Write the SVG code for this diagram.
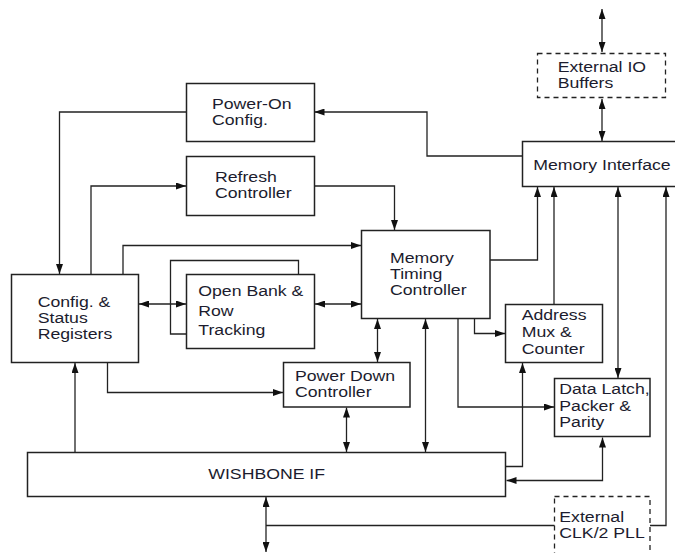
<svg xmlns="http://www.w3.org/2000/svg" width="675" height="553" viewBox="0 0 675 553">
<style>
.box{fill:#fff;stroke:#222;stroke-width:1.5}
.dash{fill:#fff;stroke:#222;stroke-width:1.3;stroke-dasharray:5,4}
.c{fill:none;stroke:#222;stroke-width:1.3}
text{font-family:"Liberation Sans",Arial,sans-serif;font-size:15.5px;fill:#1c1c2e}
</style>
<defs>
<marker id="ah" markerUnits="userSpaceOnUse" markerWidth="10" markerHeight="7" refX="10" refY="3.5" orient="auto-start-reverse">
<path d="M0,0 L10,3.5 L0,7 z" fill="#111"/>
</marker>
</defs>
<rect width="675" height="553" fill="#fff"/>
<g id="connectors">
<path class="c" d="M602,9 V52" marker-start="url(#ah)" marker-end="url(#ah)"/>
<path class="c" d="M602,99 V141" marker-start="url(#ah)" marker-end="url(#ah)"/>
<path class="c" d="M522,156 H427 V112 H314.5" marker-end="url(#ah)"/>
<path class="c" d="M186,112 H59.5 V274" marker-end="url(#ah)"/>
<path class="c" d="M91,274 V186 H186" marker-end="url(#ah)"/>
<path class="c" d="M314.5,186 H394.5 V230" marker-end="url(#ah)"/>
<path class="c" d="M123,274 V245.5 H361" marker-end="url(#ah)"/>
<path class="c" d="M298.5,274 V260.5 H170.5 V334 H186"/>
<path class="c" d="M139,304 H186" marker-start="url(#ah)" marker-end="url(#ah)"/>
<path class="c" d="M315,304 H361" marker-start="url(#ah)" marker-end="url(#ah)"/>
<path class="c" d="M490,260 H537.5 V187" marker-end="url(#ah)"/>
<path class="c" d="M554,304 V187" marker-end="url(#ah)"/>
<path class="c" d="M618,187 V378" marker-start="url(#ah)" marker-end="url(#ah)"/>
<path class="c" d="M266,525.5 H666 V187" marker-end="url(#ah)"/>
<path class="c" d="M266,497 V552" marker-start="url(#ah)" marker-end="url(#ah)"/>
<path class="c" d="M107.5,363 V392.5 H283" marker-end="url(#ah)"/>
<path class="c" d="M75,452 V363" marker-end="url(#ah)"/>
<path class="c" d="M377.5,319 V362" marker-start="url(#ah)" marker-end="url(#ah)"/>
<path class="c" d="M425.5,319 V452" marker-start="url(#ah)" marker-end="url(#ah)"/>
<path class="c" d="M346.5,407.5 V452" marker-start="url(#ah)" marker-end="url(#ah)"/>
<path class="c" d="M474.5,319 V333.5 H505" marker-end="url(#ah)"/>
<path class="c" d="M458,319 V407 H554" marker-end="url(#ah)"/>
<path class="c" d="M506,466.5 H522.5 V363" marker-end="url(#ah)"/>
<path class="c" d="M602.5,437.5 V480.5 H506.5" marker-start="url(#ah)" marker-end="url(#ah)"/>
</g>
<g id="power-on">
<rect class="box" x="186.5" y="83.5" width="128" height="58"/>
<text transform="matrix(1.14 0 0 1 212 109)">Power-On</text>
<text transform="matrix(1.14 0 0 1 212 125)">Config.</text>
</g>
<g id="refresh">
<rect class="box" x="186.5" y="156.5" width="128" height="59"/>
<text transform="matrix(1.14 0 0 1 215 181.5)">Refresh</text>
<text transform="matrix(1.14 0 0 1 215 198)">Controller</text>
</g>
<g id="io-buffers">
<rect class="dash" x="537.5" y="53.5" width="128" height="44"/>
<text transform="matrix(1.14 0 0 1 557.7 71.5)">External IO</text>
<text transform="matrix(1.14 0 0 1 557.7 87.5)">Buffers</text>
</g>
<g id="memory-interface">
<rect class="box" x="522.5" y="141.5" width="160" height="45"/>
<text transform="matrix(1.14 0 0 1 533.3 170)">Memory Interface</text>
</g>
<g id="timing">
<rect class="box" x="361.5" y="230.5" width="128.5" height="88"/>
<text transform="matrix(1.14 0 0 1 390 262.5)">Memory</text>
<text transform="matrix(1.14 0 0 1 390 278.5)">Timing</text>
<text transform="matrix(1.14 0 0 1 390 294.5)">Controller</text>
</g>
<g id="config">
<rect class="box" x="11.5" y="274.5" width="127" height="88"/>
<text transform="matrix(1.14 0 0 1 37.7 306.7)">Config. &amp;</text>
<text transform="matrix(1.14 0 0 1 37.7 322.7)">Status</text>
<text transform="matrix(1.14 0 0 1 37.7 339)">Registers</text>
</g>
<g id="open-bank">
<rect class="box" x="186.5" y="274.5" width="128" height="74"/>
<text transform="matrix(1.14 0 0 1 198.3 296)">Open Bank &amp;</text>
<text transform="matrix(1.14 0 0 1 198.3 316)">Row</text>
<text transform="matrix(1.14 0 0 1 198.3 335.3)">Tracking</text>
</g>
<g id="address">
<rect class="box" x="505.5" y="304.5" width="97" height="58"/>
<text transform="matrix(1.14 0 0 1 521.7 320)">Address</text>
<text transform="matrix(1.14 0 0 1 521.7 337)">Mux &amp;</text>
<text transform="matrix(1.14 0 0 1 521.7 354)">Counter</text>
</g>
<g id="data-latch">
<rect class="box" x="554.5" y="378.5" width="95.5" height="58"/>
<text transform="matrix(1.14 0 0 1 559.3 394)">Data Latch,</text>
<text transform="matrix(1.14 0 0 1 559.3 410.7)">Packer &amp;</text>
<text transform="matrix(1.14 0 0 1 559.3 427.3)">Parity</text>
</g>
<g id="power-down">
<rect class="box" x="283.5" y="362.5" width="126.5" height="44.5"/>
<text transform="matrix(1.14 0 0 1 295 381)">Power Down</text>
<text transform="matrix(1.14 0 0 1 295 397)">Controller</text>
</g>
<g id="wishbone">
<rect class="box" x="27.5" y="452.5" width="478" height="44"/>
<text transform="matrix(1.14 0 0 1 208.3 479.3)">WISHBONE IF</text>
</g>
<g id="clk-pll">
<rect class="dash" x="554.5" y="496.5" width="95.5" height="70"/>
<text transform="matrix(1.14 0 0 1 559.3 521.7)">External</text>
<text transform="matrix(1.14 0 0 1 559.3 537.7)">CLK/2 PLL</text>
</g>
</svg>
